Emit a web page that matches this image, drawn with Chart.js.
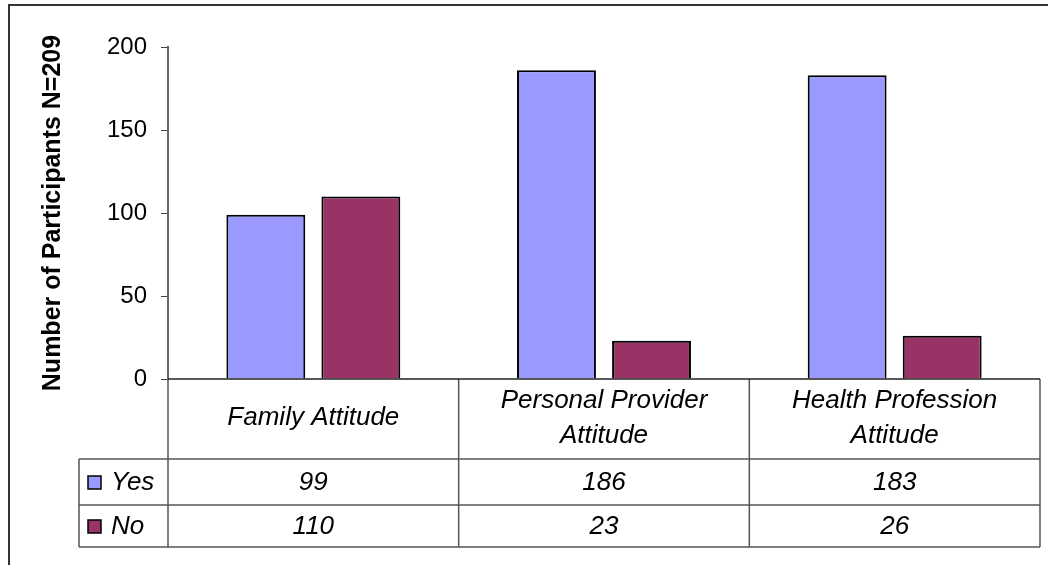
<!DOCTYPE html>
<html>
<head>
<meta charset="utf-8">
<script src="https://cdn.jsdelivr.net/npm/chart.js@4"></script>
<style>
  body { margin: 0; background: #fff; }
  #wrap { width: 1048px; height: 565px; }
</style>
</head>
<body>
<div id="wrap"><canvas id="chartBar" width="1048" height="565"></canvas></div>
<script>
const categories = [['Family Attitude'], ['Personal Provider', 'Attitude'], ['Health Profession', 'Attitude']];
const seriesNames = ['Yes', 'No'];
const yesValues = [99, 186, 183];
const noValues = [110, 23, 26];
const yTicks = [0, 50, 100, 150, 200];

const FONT = "'Liberation Sans', Arial, sans-serif";
Chart.defaults.font.family = FONT;
Chart.defaults.color = '#000';

// data table under the plot, Excel style
const dataTable = {
    id: 'dataTable',
    afterDraw(chart) {
        const { ctx, chartArea: a, scales: { x } } = chart;
        const half = (a.right - a.left) / categories.length / 2;
        const catBottom = a.bottom + 80;
        const yesBottom = catBottom + 46;
        const noBottom = yesBottom + 42;
        const legLeft = 79;
        const sets = chart.data.datasets;

        ctx.save();
        // outer frame
        ctx.strokeStyle = '#333';
        ctx.lineWidth = 2;
        ctx.strokeRect(9, 5, 1200, 700);

        // grid of the table
        ctx.strokeStyle = '#555';
        ctx.lineWidth = 1.5;
        ctx.beginPath();
        [catBottom, yesBottom, noBottom].forEach(yy => {
            ctx.moveTo(legLeft, yy); ctx.lineTo(a.right, yy);
        });
        ctx.moveTo(legLeft, catBottom); ctx.lineTo(legLeft, noBottom);
        for (let i = 0; i <= categories.length; i++) {
            const xx = a.left + i * half * 2;
            ctx.moveTo(xx, a.bottom); ctx.lineTo(xx, noBottom);
        }
        ctx.stroke();

        // x axis line
        ctx.strokeStyle = '#222';
        ctx.beginPath();
        ctx.moveTo(a.left, a.bottom); ctx.lineTo(a.right, a.bottom);
        ctx.stroke();

        ctx.fillStyle = '#000';
        ctx.font = 'italic 26px ' + FONT;
        ctx.textAlign = 'center';
        ctx.textBaseline = 'middle';
        categories.forEach((lines, i) => {
            const cx = x.getPixelForValue(i);
            const mid = (a.bottom + catBottom) / 2 - 1;
            lines.forEach((t, j) => {
                ctx.fillText(t, cx, mid + (j - (lines.length - 1) / 2) * 35);
            });
        });

        const rows = [[catBottom, yesBottom], [yesBottom, noBottom]];
        sets.forEach((ds, r) => {
            const cy = (rows[r][0] + rows[r][1]) / 2 + 1;
            ds.data.forEach((v, i) => {
                ctx.textAlign = 'center';
                ctx.fillText(String(v), x.getPixelForValue(i), cy);
            });
            // legend key
            ctx.fillStyle = ds.backgroundColor;
            ctx.fillRect(88, cy - 7, 13, 13);
            ctx.strokeStyle = '#000';
            ctx.lineWidth = 1.5;
            ctx.strokeRect(88, cy - 7, 13, 13);
            ctx.fillStyle = '#000';
            ctx.textAlign = 'left';
            ctx.fillText(ds.label, 111, cy);
        });
        ctx.restore();
    }
};

new Chart(document.getElementById('chartBar'), {
    type: 'bar',
    data: {
        labels: categories,
        datasets: [
            {
                label: seriesNames[0],
                data: yesValues,
                backgroundColor: '#9999FF',
                borderColor: '#000',
                borderWidth: 2,
            },
            {
                label: seriesNames[1],
                data: noValues,
                backgroundColor: '#993366',
                borderColor: '#000',
                borderWidth: 2,
            }
        ]
    },
    options: {
        responsive: false,
        animation: false,
        categoryPercentage: 0.654,
        barPercentage: 0.83,
        layout: {
            padding: { left: 0, right: 8, top: 47, bottom: 186 }
        },
        plugins: {
            legend: { display: false },
            tooltip: { enabled: false },
        },
        scales: {
            x: {
                display: false,
            },
            y: {
                min: 0,
                max: 200,
                afterBuildTicks: (scale) => {
                    scale.ticks = yTicks.map(v => ({ value: v }));
                },
                afterFit: (scale) => {
                    scale.width = 168;
                },
                border: { color: '#666', width: 2 },
                grid: {
                    drawOnChartArea: false,
                    tickLength: 7,
                    color: '#444',
                    lineWidth: 1,
                },
                ticks: {
                    padding: 14,
                    font: { size: 24 },
                    color: '#000',
                },
                title: {
                    display: true,
                    text: 'Number of Participants N=209',
                    font: { size: 25, weight: 'bold' },
                    color: '#000',
                    padding: { top: 38, bottom: 0 },
                }
            }
        }
    },
    plugins: [dataTable]
});
</script>
</body>
</html>
